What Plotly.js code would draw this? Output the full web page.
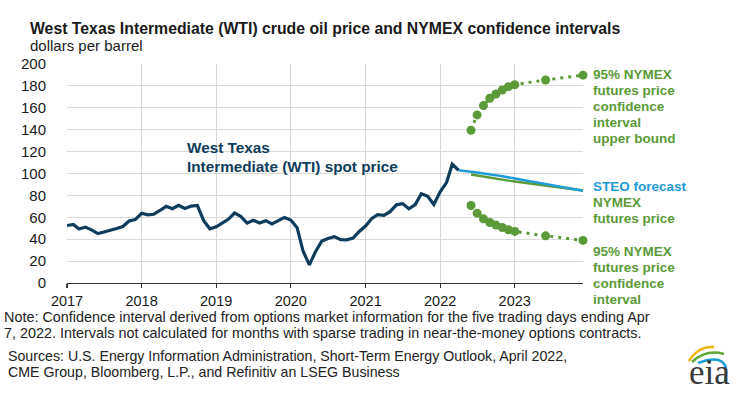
<!DOCTYPE html>
<html>
<head>
<meta charset="utf-8">
<script src="https://cdn.plot.ly/plotly-3.0.1.min.js"></script>
<style>
  html, body { margin: 0; padding: 0; background: #ffffff; }
  #chart { width: 740px; height: 394px; }
</style>
</head>
<body>
<div id="chart"></div>
<script>
// ---------- DATA ----------
// WTI spot price, monthly, Jan 2017 - Apr 2022 (dollars per barrel)
const wtiStart = '2017-01';
const wtiSpot = [
  52.50, 53.47, 49.33, 51.06, 48.48, 45.18, 46.63, 48.04, 49.82, 51.58, 56.64, 57.88,
  63.70, 62.23, 62.73, 66.25, 69.98, 67.87, 70.98, 68.06, 70.23, 70.75, 56.96, 49.52,
  51.38, 54.95, 58.15, 63.86, 60.83, 54.66, 57.35, 54.81, 56.95, 53.96, 57.03, 59.88,
  57.52, 50.54, 29.21, 16.55, 28.56, 38.31, 40.71, 42.34, 39.63, 39.40, 40.94, 47.02,
  52.00, 59.04, 62.33, 61.72, 65.17, 71.38, 72.49, 67.73, 71.65, 81.48, 79.15, 71.71,
  83.22, 91.64, 108.50, 103.0
];

// STEO forecast, Apr 2022 - Dec 2023
const steoStart = '2022-04';
const steoForecast = [
  103.0, 102.5, 102.0, 101.0, 100.0, 99.5, 98.5, 97.5, 96.5,
  95.5, 94.5, 93.5, 92.5, 91.5, 90.5, 89.5, 88.5, 87.5, 86.5, 85.5, 84.3
];

// NYMEX futures price, Jun 2022 - Dec 2023
const futStart = '2022-06';
const nymexFutures = [
  99.0, 98.0, 97.0, 96.0, 95.2, 94.3, 93.5,
  92.7, 92.0, 91.2, 90.5, 89.8, 89.0, 88.3, 87.6, 86.9, 86.2, 85.5, 84.5
];

// 95% confidence interval (months with calculated intervals only)
const ciDates = ['2022-06-01', '2022-07-01', '2022-08-01', '2022-09-01', '2022-10-01',
                 '2022-11-01', '2022-12-01', '2023-01-01', '2023-06-01', '2023-12-01'];
const ciUpper = [139.5, 153.5, 162.0, 168.7, 172.6, 176.3, 179.3, 181.1, 185.4, 189.8];
const ciLower = [70.8, 63.8, 58.6, 55.3, 52.9, 50.7, 48.6, 47.1, 43.1, 38.9];

const yTicks = [0, 20, 40, 60, 80, 100, 120, 140, 160, 180, 200];
const xTickYears = ['2017', '2018', '2019', '2020', '2021', '2022', '2023'];

// ---------- HELPERS ----------
function months(start, n) {
  const [y0, m0] = start.split('-').map(Number);
  const out = [];
  for (let i = 0; i < n; i++) {
    const t = (m0 - 1) + i;
    const y = y0 + Math.floor(t / 12);
    const m = (t % 12) + 1;
    out.push(y + '-' + String(m).padStart(2, '0') + '-01');
  }
  return out;
}

const NAVY = '#0f3c5c';
const BLUE = '#1f9bd7';
const GREEN = '#5b9a38';
const FONT = 'Liberation Sans, Arial, sans-serif';

// plot area in pixels
const L = 67, R = 583, T = 64, B = 283;
const W = 740, H = 394;
function px(x) { return (x - L) / (R - L); }
function py(y) { return (B - y) / (B - T); }

// ---------- TRACES ----------
const traces = [
  {
    x: months(futStart, nymexFutures.length), y: nymexFutures,
    type: 'scatter', mode: 'lines',
    line: { color: GREEN, width: 2.5 }, hoverinfo: 'skip'
  },
  {
    x: months(steoStart, steoForecast.length), y: steoForecast,
    type: 'scatter', mode: 'lines',
    line: { color: BLUE, width: 2.5 }, hoverinfo: 'skip'
  },
  {
    x: months(wtiStart, wtiSpot.length), y: wtiSpot,
    type: 'scatter', mode: 'lines',
    line: { color: NAVY, width: 3.2 }, hoverinfo: 'skip'
  },
  {
    x: ciDates, y: ciUpper,
    type: 'scatter', mode: 'lines+markers',
    line: { color: GREEN, width: 3, dash: '3px,5px' },
    marker: { color: GREEN, size: 9 }, cliponaxis: false, hoverinfo: 'skip'
  },
  {
    x: ciDates, y: ciLower,
    type: 'scatter', mode: 'lines+markers',
    line: { color: GREEN, width: 3, dash: '3px,5px' },
    marker: { color: GREEN, size: 9 }, cliponaxis: false, hoverinfo: 'skip'
  }
];

// ---------- ANNOTATIONS ----------
function txt(text, x, y, size, color, bold, anchor, family) {
  return {
    text: bold ? '<b>' + text + '</b>' : text,
    xref: 'paper', yref: 'paper', x: px(x), y: py(y),
    xanchor: anchor || 'left', yanchor: 'middle',
    showarrow: false,
    font: { family: family || FONT, size: size, color: color }
  };
}

const annotations = [
  txt('West Texas Intermediate (WTI) crude oil price and NYMEX confidence intervals', 28, 28.5, 15.8, '#1a1a1a', true),
  txt('dollars per barrel', 28, 46, 15, '#1a1a1a', false),

  txt('West Texas', 185, 147, 15.3, NAVY, true),
  txt('Intermediate (WTI) spot price', 185, 166, 15.3, NAVY, true),

  txt('95% NYMEX', 591, 74.5, 13.5, GREEN, true),
  txt('futures price', 591, 90.5, 13.5, GREEN, true),
  txt('confidence', 591, 106.5, 13.5, GREEN, true),
  txt('interval', 591, 122.5, 13.5, GREEN, true),
  txt('upper bound', 591, 138.5, 13.5, GREEN, true),

  txt('STEO forecast', 591, 186.5, 13.5, BLUE, true),
  txt('NYMEX', 591, 202.5, 13.5, GREEN, true),
  txt('futures price', 591, 218.5, 13.5, GREEN, true),

  txt('95% NYMEX', 591, 251, 13.5, GREEN, true),
  txt('futures price', 591, 267, 13.5, GREEN, true),
  txt('confidence', 591, 283, 13.5, GREEN, true),
  txt('interval', 591, 299, 13.5, GREEN, true),

  txt('Note: Confidence interval derived from options market information for the five trading days ending Apr', 2, 316.5, 14.4, '#222222', false),
  txt('7, 2022. Intervals not calculated for months with sparse trading in near-the-money options contracts.', 2, 332.5, 14.4, '#222222', false),
  txt('Sources: U.S. Energy Information Administration, Short-Term Energy Outlook, April 2022,', 6, 355.5, 14.2, '#222222', false),
  txt('CME Group, Bloomberg, L.P., and Refinitiv an LSEG Business', 6, 371.5, 14.2, '#222222', false),

  txt('eia', 709, 372, 35, '#3a3a3a', false, 'center', 'Liberation Serif, DejaVu Serif, serif')
];

// EIA logo arcs (decorative)
function pth(p) {
  return 'M' + px(p[0]) + ',' + py(p[1]) + ' Q' + px(p[2]) + ',' + py(p[3]) + ' ' + px(p[4]) + ',' + py(p[5]);
}
const shapes = [
  { type: 'path', xref: 'paper', yref: 'paper', path: pth([689, 361, 698, 346, 714, 347]), line: { color: '#f2b705', width: 2.5 } },
  { type: 'path', xref: 'paper', yref: 'paper', path: pth([692, 362, 706, 349, 724, 354]), line: { color: '#5ea635', width: 2.5 } },
  { type: 'path', xref: 'paper', yref: 'paper', path: pth([698, 363, 732, 351, 725, 381]), line: { color: '#1a9ad6', width: 2.5 } }
];

// ---------- LAYOUT ----------
const layout = {
  width: W, height: H,
  margin: { l: L, r: W - R, t: T, b: H - B, pad: 0 },
  paper_bgcolor: '#ffffff', plot_bgcolor: '#ffffff',
  showlegend: false,
  font: { family: FONT, color: '#1a1a1a' },
  xaxis: {
    type: 'date',
    range: ['2017-01-01', '2023-12-01'],
    tickvals: xTickYears.map(y => y + '-01-01'),
    ticktext: xTickYears,
    showgrid: true, gridcolor: '#d9d9d9', gridwidth: 1,
    showline: true, linecolor: '#333333', linewidth: 1.3,
    ticks: 'outside', ticklen: 4, tickcolor: '#333333', tickwidth: 1.3,
    ticklabelstandoff: 0,
    tickfont: { family: FONT, size: 14.5, color: '#1a1a1a' },
    zeroline: false, fixedrange: true
  },
  yaxis: {
    range: [0, 200],
    tickvals: yTicks,
    ticktext: yTicks.map(String),
    showgrid: true, gridcolor: '#d9d9d9', gridwidth: 1,
    showline: false, zeroline: false,
    ticks: '', ticklabelstandoff: 20,
    tickfont: { family: FONT, size: 15, color: '#1a1a1a' },
    fixedrange: true
  },
  annotations: annotations,
  shapes: shapes
};

Plotly.newPlot('chart', traces, layout, { displayModeBar: false, staticPlot: true });
</script>
</body>
</html>
